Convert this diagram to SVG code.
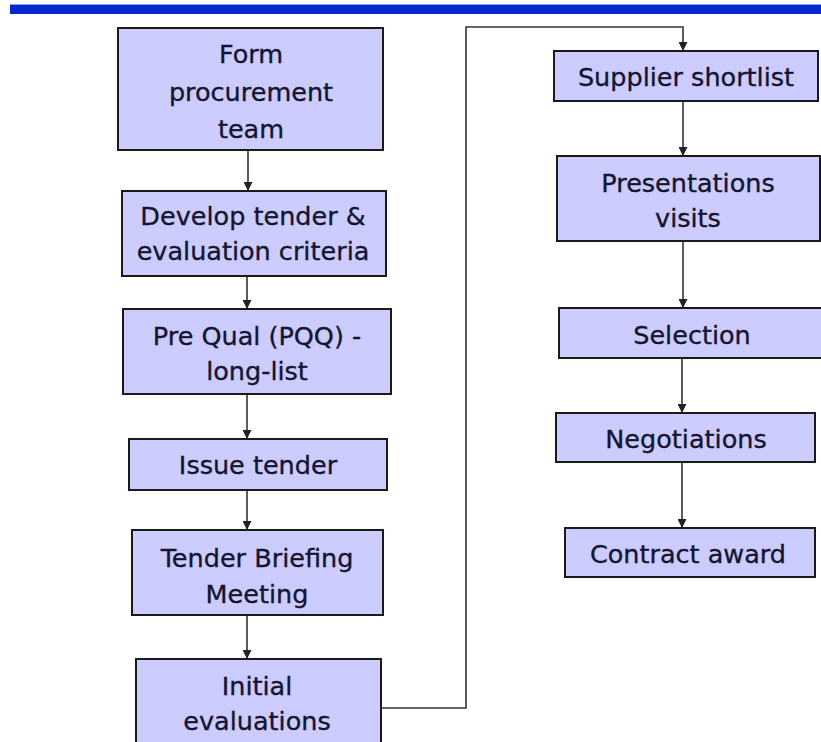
<svg xmlns="http://www.w3.org/2000/svg" width="821" height="742" viewBox="0 0 821 742">
  <defs>
    <marker id="arrow" markerWidth="9" markerHeight="9" refX="8" refY="4.5" orient="auto" markerUnits="userSpaceOnUse">
      <path d="M0,0 L9,4.5 L0,9 Z" fill="#222"/>
    </marker>
    <style>
      .box { fill: #ccccff; stroke: #1a1a1a; stroke-width: 2; }
      .label { font-family: "DejaVu Sans", Verdana, sans-serif; font-size: 25.5px; fill: #151530; stroke: #151530; stroke-width: 0.35; text-anchor: middle; }
      .conn { fill: none; stroke: #333; stroke-width: 1.6; }
    </style>
  </defs>

  <rect x="0" y="0" width="821" height="742" fill="#ffffff"/>

  <!-- title rule -->
  <rect x="10" y="4" width="811" height="10" fill="#0429cf"/>
  <line x1="10" y1="4.5" x2="821" y2="4.5" stroke="#8fa0f0" stroke-width="1"/>

  <!-- connectors -->
  <g id="connectors">
    <line class="conn" x1="248" y1="150" x2="248" y2="190" marker-end="url(#arrow)"/>
    <line class="conn" x1="247" y1="276" x2="247" y2="308" marker-end="url(#arrow)"/>
    <line class="conn" x1="247" y1="394" x2="247" y2="438" marker-end="url(#arrow)"/>
    <line class="conn" x1="247" y1="490" x2="247" y2="529" marker-end="url(#arrow)"/>
    <line class="conn" x1="247" y1="615" x2="247" y2="658" marker-end="url(#arrow)"/>
    <polyline class="conn" points="381,708 466,708 466,27 683,27 683,50" marker-end="url(#arrow)"/>
    <line class="conn" x1="683" y1="101" x2="683" y2="155" marker-end="url(#arrow)"/>
    <line class="conn" x1="683" y1="241" x2="683" y2="307" marker-end="url(#arrow)"/>
    <line class="conn" x1="682" y1="358" x2="682" y2="412" stroke="#666" marker-end="url(#arrow)"/>
    <line class="conn" x1="682" y1="463" x2="682" y2="527" stroke="#666" marker-end="url(#arrow)"/>
  </g>

  <g id="form-team">
    <rect class="box" x="118" y="28" width="265" height="122"/>
    <text class="label" x="251" y="63">Form</text>
    <text class="label" x="251" y="101">procurement</text>
    <text class="label" x="251" y="138">team</text>
  </g>

  <g id="develop-tender">
    <rect class="box" x="122" y="191" width="264" height="85"/>
    <text class="label" x="253" y="225">Develop tender &amp;</text>
    <text class="label" x="253" y="260">evaluation criteria</text>
  </g>

  <g id="pre-qual">
    <rect class="box" x="123" y="309" width="268" height="85"/>
    <text class="label" x="257" y="345">Pre Qual (PQQ) -</text>
    <text class="label" x="257" y="380">long-list</text>
  </g>

  <g id="issue-tender">
    <rect class="box" x="129" y="439" width="258" height="51"/>
    <text class="label" x="258" y="474">Issue tender</text>
  </g>

  <g id="briefing">
    <rect class="box" x="132" y="530" width="251" height="85"/>
    <text class="label" x="257" y="567">Tender Briefing</text>
    <text class="label" x="257" y="603">Meeting</text>
  </g>

  <g id="initial-evaluations">
    <rect class="box" x="136" y="659" width="245" height="100"/>
    <text class="label" x="257" y="695">Initial</text>
    <text class="label" x="257" y="730">evaluations</text>
  </g>

  <g id="shortlist">
    <rect class="box" x="554" y="51" width="264" height="50"/>
    <text class="label" x="686" y="86">Supplier shortlist</text>
  </g>

  <g id="presentations">
    <rect class="box" x="557" y="156" width="263" height="85"/>
    <text class="label" x="688" y="192">Presentations</text>
    <text class="label" x="688" y="227">visits</text>
  </g>

  <g id="selection">
    <rect class="box" x="559" y="308" width="264" height="50"/>
    <text class="label" x="692" y="344">Selection</text>
  </g>

  <g id="negotiations">
    <rect class="box" x="556" y="413" width="259" height="49"/>
    <text class="label" x="686" y="448">Negotiations</text>
  </g>

  <g id="contract-award">
    <rect class="box" x="565" y="528" width="250" height="49"/>
    <text class="label" x="688" y="563">Contract award</text>
  </g>
</svg>
